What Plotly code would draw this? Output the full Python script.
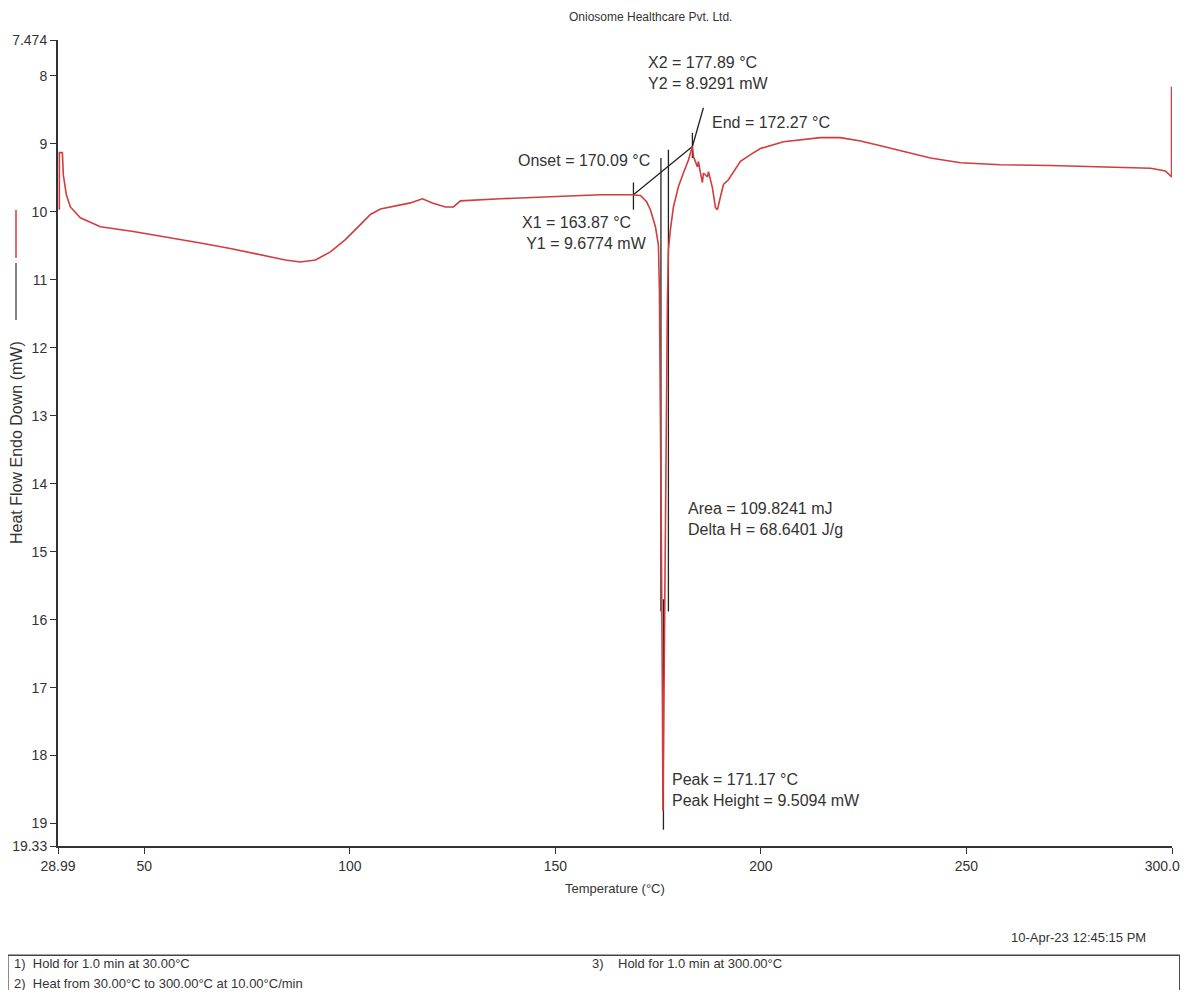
"""
DSC thermogram - Oniosome Healthcare Pvt. Ltd.
"""
import plotly.graph_objects as go

# --- data ---
temperature = [29.32, 29.32, 30.05, 30.29, 31.02, 32.0, 34.43, 39.29, 47.32, 56.33,
               63.63, 70.92, 78.22, 84.31, 87.96, 91.61, 95.26, 98.9, 102.55, 104.99,
               107.42, 111.07, 114.72, 117.64, 120.07, 123.24, 125.18, 126.89, 131.75, 136.62,
               148.78, 160.95, 168.25, 170.68, 172.14, 173.11, 174.33, 175.06, 175.3, 175.55,
               175.79, 176.03, 176.16, 176.4, 176.77, 177.25, 177.49, 177.98, 178.71, 179.93,
               181.14, 182.36, 183.33, 183.58, 184.55, 184.79, 185.28, 185.77, 186.01, 186.98,
               187.23, 187.71, 188.2, 188.93, 189.42, 190.15, 190.88, 192.09, 193.8, 195.01,
               197.45, 199.88, 205.47, 209.61, 214.48, 219.34, 224.21, 229.08, 233.94, 241.24,
               248.54, 258.27, 270.44, 282.6, 294.8, 298.4, 299.9, 299.9]
heat_flow = [9.97, 9.13, 9.13, 9.46, 9.75, 9.93, 10.09, 10.22, 10.29, 10.38,
             10.46, 10.54, 10.63, 10.71, 10.74, 10.71, 10.59, 10.41, 10.19, 10.04,
             9.96, 9.91, 9.87, 9.81, 9.87, 9.93, 9.93, 9.84, 9.82, 9.81,
             9.78, 9.75, 9.75, 9.76, 9.85, 9.97, 10.22, 10.49, 11.15, 12.76,
             14.97, 17.18, 18.82, 17.18, 14.24, 11.29, 10.56, 10.26, 9.93, 9.63,
             9.43, 9.24, 9.04, 9.19, 9.34, 9.26, 9.43, 9.57, 9.43, 9.49,
             9.41, 9.53, 9.65, 9.94, 9.97, 9.78, 9.6, 9.53, 9.38, 9.26,
             9.16, 9.07, 8.97, 8.94, 8.91, 8.91, 8.96, 9.03, 9.1, 9.21,
             9.28, 9.31, 9.32, 9.34, 9.36, 9.4, 9.49, 8.16]

# analysis markers (onset tangent, X1/X2 ticks, partial area and peak lines)
tangent_t = [168.98, 183.33]
tangent_hf = [9.75, 9.04]
x1_t, x1_hf = [168.98, 168.98], [9.57, 9.97]
x2_t, x2_hf = [183.33, 183.33], [8.84, 9.21]
leader_t, leader_hf = [183.33, 186.0], [9.04, 8.47]
onset_t, onset_hf = [175.67, 175.67], [9.21, 15.88]
end_t, end_hf = [177.49, 177.49], [9.09, 15.88]
peak_t, peak_hf = [176.28, 176.28], [15.7, 19.09]

x_ticks = [28.99, 50, 100, 150, 200, 250, 300]
# trailing no-break spaces pull the last label left so it stays inside the page
x_ticktext = ['28.99', '50', '100', '150', '200', '250', '300.0' + '\u00a0' * 5]
y_ticks = [7.474, 8, 9, 10, 11, 12, 13, 14, 15, 16, 17, 18, 19, 19.33]
y_ticktext = ['7.474', '8', '9', '10', '11', '12', '13', '14', '15', '16', '17', '18', '19', '19.33']

FONT = 'Liberation Sans, Arial, sans-serif'
TXT = '#333333'

fig = go.Figure()

mark_x, mark_y = [], []
for xs, ys in [(tangent_t, tangent_hf), (x1_t, x1_hf), (x2_t, x2_hf), (leader_t, leader_hf),
               (onset_t, onset_hf), (end_t, end_hf), (peak_t, peak_hf)]:
    mark_x += xs + [None]
    mark_y += ys + [None]
fig.add_trace(go.Scatter(x=mark_x, y=mark_y, mode='lines',
                         line=dict(color='#222222', width=1.3), hoverinfo='skip'))

fig.add_trace(go.Scatter(x=temperature, y=heat_flow, mode='lines',
                         line=dict(color='#d23c3c', width=1.6)))

notes = [
    (172.14, 7.96, 'left', 'X2 = 177.89 °C<br>Y2 = 8.9291 mW'),
    (187.71, 8.69, 'left', 'End = 172.27 °C'),
    (173.6, 9.25, 'right', 'Onset = 170.09 °C'),
    (141.48, 10.32, 'left', 'X1 = 163.87 °C<br> Y1 = 9.6774 mW'),
    (181.87, 14.52, 'left', 'Area = 109.8241 mJ<br>Delta H = 68.6401 J/g'),
    (177.98, 18.51, 'left', 'Peak = 171.17 °C<br>Peak Height = 9.5094 mW'),
]
for x, y, anchor, text in notes:
    fig.add_annotation(x=x, y=y, xref='x', yref='y', text=text, showarrow=False,
                       xanchor=anchor, yanchor='middle', align='left',
                       font=dict(family=FONT, size=16, color=TXT))


def paper_text(x, y, text, size, anchor='center', angle=0):
    fig.add_annotation(x=x, y=y, xref='paper', yref='paper', text=text, showarrow=False,
                       xanchor=anchor, yanchor='middle', textangle=angle,
                       font=dict(family=FONT, size=size, color=TXT))


# header / footer texts
paper_text(0.532, 1.029, 'Oniosome Healthcare Pvt. Ltd.', 12)
paper_text(0.5, -0.053, 'Temperature (°C)', 13)
paper_text(0.9785, -0.113, '10-Apr-23 12:45:15 PM', 13, 'right')
paper_text(-0.041, -0.146, '1)  Hold for 1.0 min at 30.00°C', 13, 'left')
paper_text(-0.041, -0.170, '2)  Heat from 30.00°C to 300.00°C at 10.00°C/min', 13, 'left')
paper_text(0.4776, -0.146, '3)    Hold for 1.0 min at 300.00°C', 13, 'left')
fig.add_shape(type='rect', xref='paper', yref='paper', x0=-0.045, x1=1.007, y0=-0.1355, y1=-0.19,
              line=dict(color='#444444', width=1.5))

# y axis label with the legend strokes
paper_text(-0.0377, 0.5, 'Heat Flow Endo Down (mW)', 16, 'center', -90)
fig.add_shape(type='line', xref='paper', yref='paper', x0=-0.0377, x1=-0.0377, y0=0.7295, y1=0.789,
              line=dict(color='#d23c3c', width=1.5))
fig.add_shape(type='line', xref='paper', yref='paper', x0=-0.0377, x1=-0.0377, y0=0.6526, y1=0.7233,
              line=dict(color='#333333', width=1.2))

axis_style = dict(showline=True, linecolor='#333333', linewidth=2, ticks='outside', ticklen=6,
                  tickcolor='#333333', showgrid=False, zeroline=False, automargin=False,
                  tickfont=dict(family=FONT, size=14, color=TXT))
fig.update_xaxes(range=[28.99, 300], tickvals=x_ticks, ticktext=x_ticktext,
                 ticklabeloverflow='allow', **axis_style)
fig.update_yaxes(range=[19.33, 7.474], tickvals=y_ticks, ticktext=y_ticktext, **axis_style)

# page body adds an 8px margin on every side, so the figure is kept 8px inside the window
fig.update_layout(width=1180, height=982, showlegend=False,
                  plot_bgcolor='white', paper_bgcolor='white',
                  margin=dict(l=50, r=16, t=32, b=144))

fig.write_html("out.html")
